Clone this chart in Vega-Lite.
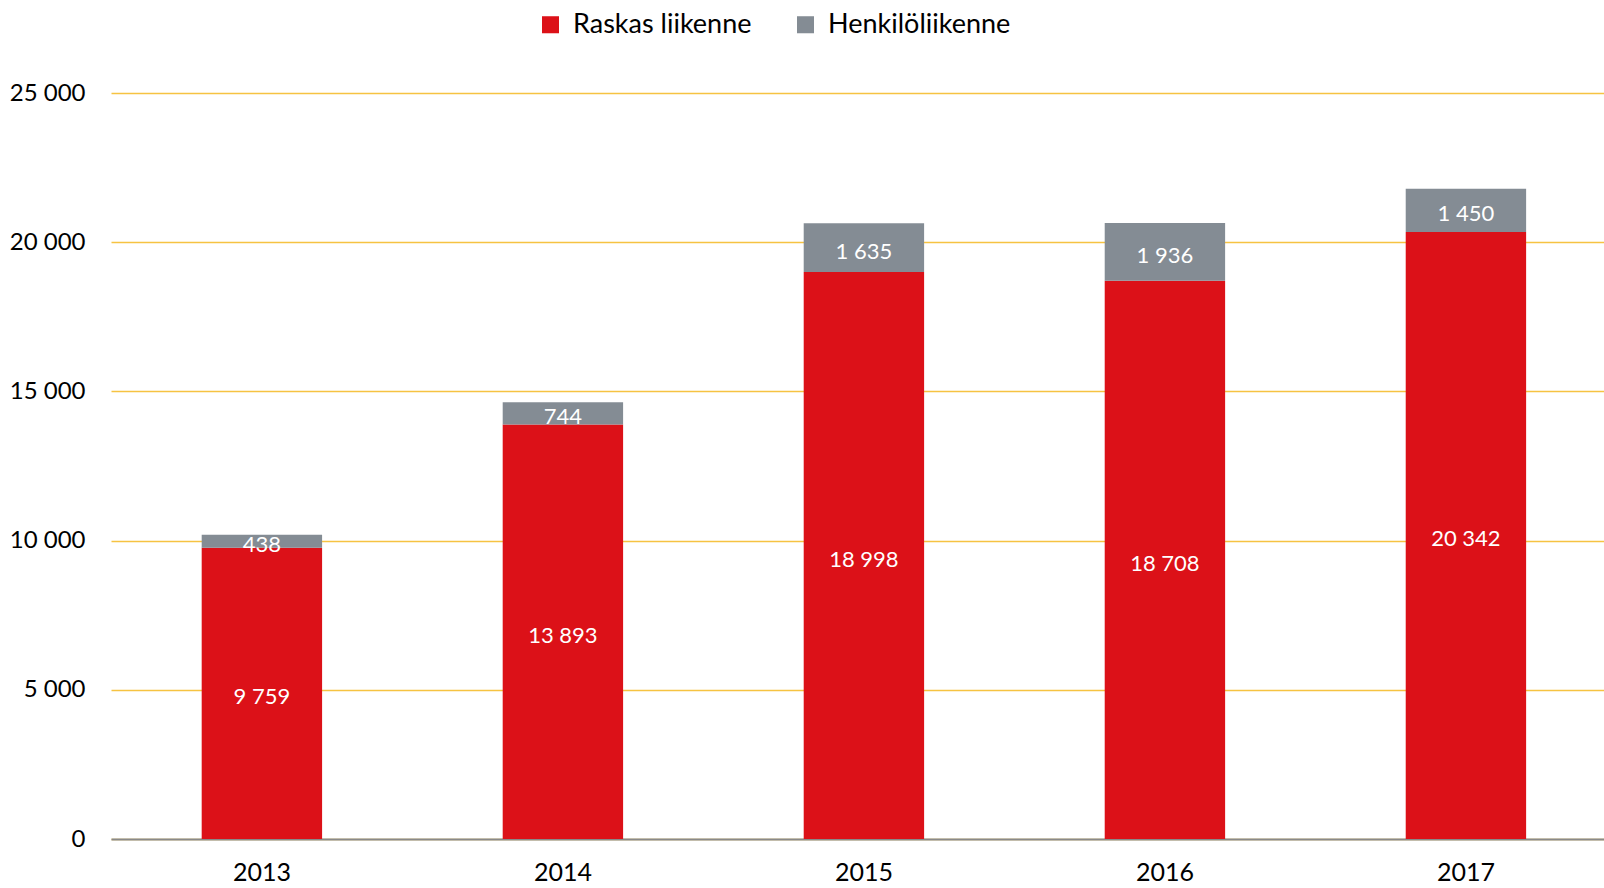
{
  "$schema": "https://vega.github.io/schema/vega-lite/v6.json",
  "width": 1493,
  "height": 746,
  "autosize": {"type": "none"},
  "padding": {"left": 111, "top": 93, "right": 0, "bottom": 49},
  "background": "white",
  "config": {
    "locale": {"number": {"decimal": ",", "thousands": " ", "grouping": [3], "currency": ["", " €"]}},
    "view": {"stroke": null},
    "font": "Lato"
  },
  "data": {
    "values": [
      {"year": "2013", "type": "Raskas liikenne", "rank": 1, "value": 9759},
      {"year": "2013", "type": "Henkilöliikenne", "rank": 2, "value": 438},
      {"year": "2014", "type": "Raskas liikenne", "rank": 1, "value": 13893},
      {"year": "2014", "type": "Henkilöliikenne", "rank": 2, "value": 744},
      {"year": "2015", "type": "Raskas liikenne", "rank": 1, "value": 18998},
      {"year": "2015", "type": "Henkilöliikenne", "rank": 2, "value": 1635},
      {"year": "2016", "type": "Raskas liikenne", "rank": 1, "value": 18708},
      {"year": "2016", "type": "Henkilöliikenne", "rank": 2, "value": 1936},
      {"year": "2017", "type": "Raskas liikenne", "rank": 1, "value": 20342},
      {"year": "2017", "type": "Henkilöliikenne", "rank": 2, "value": 1450}
    ]
  },
  "encoding": {
    "x": {
      "field": "year",
      "type": "ordinal",
      "scale": {"paddingInner": 0.6, "paddingOuter": 0.28, "align": 0.538},
      "axis": {
        "title": null,
        "labelAngle": 0,
        "labelFontSize": 25,
        "labelColor": "#000000",
        "labelPadding": 21,
        "ticks": false,
        "domainColor": "#898989",
        "domainWidth": 2,
        "grid": false
      }
    }
  },
  "layer": [
    {
      "mark": {"type": "bar"},
      "encoding": {
        "y": {
          "field": "value",
          "type": "quantitative",
          "stack": "zero",
          "scale": {"domain": [0, 25000], "nice": false},
          "axis": {
            "title": null,
            "values": [0, 5000, 10000, 15000, 20000, 25000],
            "format": ",d",
            "labelFontSize": 24,
            "labelColor": "#000000",
            "labelPadding": 26,
            "ticks": false,
            "domain": false,
            "grid": true,
            "gridColor": "#F6C342",
            "gridWidth": 1.5
          }
        },
        "color": {
          "field": "type",
          "type": "nominal",
          "scale": {"domain": ["Raskas liikenne", "Henkilöliikenne"], "range": ["#DC1118", "#848C94"]},
          "legend": {
            "title": null,
            "orient": "none",
            "direction": "horizontal",
            "legendX": 426,
            "legendY": -82,
            "symbolType": "square",
            "symbolSize": 290,
            "symbolStrokeWidth": 0,
            "labelFontSize": 27,
            "labelLimit": 0,
            "labelColor": "#000000",
            "labelOffset": 9,
            "columnPadding": 40
          }
        },
        "order": {"field": "rank", "type": "quantitative"}
      }
    },
    {
      "mark": {"type": "text", "color": "white", "fontSize": 22, "baseline": "middle", "dy": 4},
      "encoding": {
        "y": {"field": "value", "type": "quantitative", "stack": "zero", "bandPosition": 0.5},
        "detail": {"field": "type", "type": "nominal"},
        "text": {"field": "value", "type": "quantitative", "format": ",d"},
        "order": {"field": "rank", "type": "quantitative"}
      }
    }
  ]
}
